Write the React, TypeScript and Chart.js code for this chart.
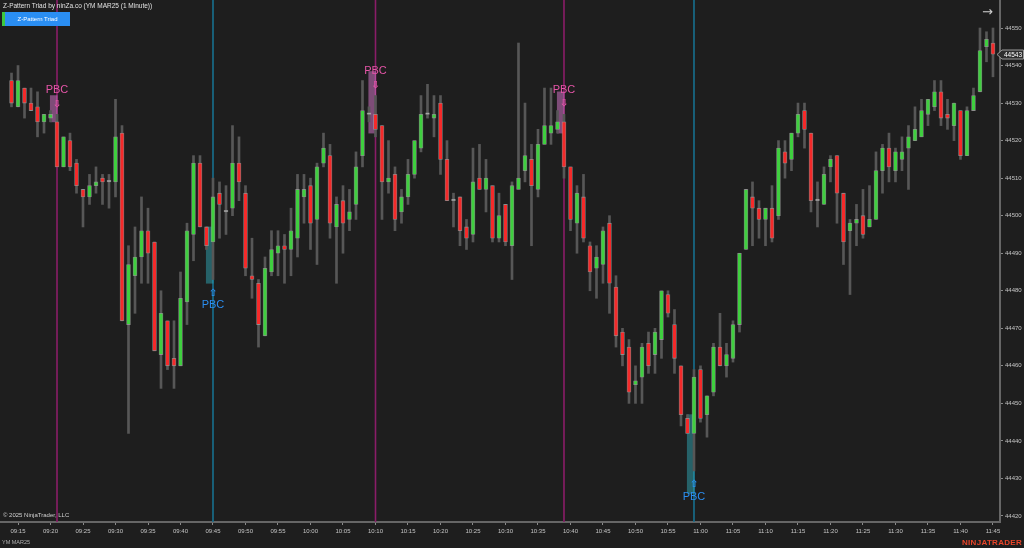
import React, { useEffect, useRef } from "react";
import { Chart, registerables } from "chart.js";

Chart.register(...registerables);

// Bars are 1-minute candles; minute offsets are relative to 09:15. First bar = 09:14.
const firstBarMinute = -1;

const opens = [
  44536, 44529, 44534, 44530, 44529, 44525, 44526, 44525, 44513, 44520,
  44514, 44507, 44505, 44508, 44510, 44509, 44509, 44522, 44471, 44484,
  44489, 44496, 44493, 44463, 44472, 44462, 44460, 44477, 44495, 44514,
  44497, 44493, 44506, 44501, 44502, 44514, 44506, 44484, 44482, 44468,
  44485, 44490, 44492, 44491, 44494, 44505, 44508, 44499, 44514, 44516,
  44497, 44504, 44499, 44503, 44516, 44527, 44527, 44524, 44509, 44511,
  44501, 44505, 44511, 44518, 44527, 44526, 44530, 44515, 44504, 44505,
  44497, 44495, 44510, 44507, 44508, 44494, 44503, 44492, 44507, 44512,
  44515, 44507, 44519, 44522, 44523, 44525, 44513, 44498, 44505, 44492,
  44486, 44487, 44498, 44481, 44469, 44465, 44455, 44457, 44466, 44463,
  44467, 44479, 44471, 44460, 44446, 44442, 44459, 44447, 44453, 44465,
  44460, 44462, 44471, 44491, 44505, 44502, 44499, 44502, 44500, 44517,
  44515, 44522, 44528, 44522, 44504, 44503, 44513, 44516, 44506, 44496,
  44498, 44500, 44497, 44499, 44512, 44518, 44512, 44515, 44518, 44520,
  44521, 44527, 44529, 44533, 44527, 44524, 44528, 44516, 44528, 44533,
  44545, 44546,
];
const highs = [
  44538, 44540, 44534, 44534, 44533, 44527, 44528, 44527, 44521, 44522,
  44515, 44507, 44511, 44513, 44511, 44511, 44531, 44524, 44492, 44497,
  44505, 44502, 44493, 44480, 44472, 44472, 44485, 44498, 44516, 44516,
  44497, 44510, 44509, 44508, 44524, 44521, 44508, 44494, 44483, 44489,
  44496, 44496, 44495, 44502, 44511, 44511, 44510, 44514, 44522, 44519,
  44505, 44508, 44507, 44517, 44536, 44529, 44532, 44524, 44520, 44513,
  44507, 44515, 44520, 44532, 44535, 44532, 44532, 44520, 44506, 44505,
  44499, 44518, 44519, 44515, 44508, 44506, 44503, 44509, 44546, 44530,
  44519, 44523, 44534, 44534, 44528, 44527, 44513, 44508, 44511, 44493,
  44492, 44497, 44500, 44484, 44470, 44467, 44460, 44466, 44469, 44470,
  44480, 44480, 44475, 44460, 44447, 44459, 44460, 44452, 44466, 44474,
  44466, 44472, 44490, 44507, 44509, 44504, 44502, 44508, 44520, 44520,
  44522, 44530, 44530, 44522, 44509, 44513, 44516, 44516, 44506, 44499,
  44503, 44507, 44508, 44517, 44519, 44522, 44518, 44521, 44524, 44529,
  44531, 44531, 44536, 44536, 44531, 44530, 44528, 44529, 44534, 44550,
  44549, 44550,
];
const lows = [
  44529, 44529, 44526, 44528, 44521, 44522, 44525, 44513, 44513, 44512,
  44506, 44497, 44503, 44506, 44503, 44502, 44505, 44472, 44442, 44474,
  44482, 44482, 44464, 44454, 44459, 44454, 44460, 44471, 44488, 44497,
  44491, 44483, 44494, 44495, 44500, 44504, 44484, 44478, 44465, 44468,
  44484, 44484, 44482, 44484, 44489, 44498, 44491, 44487, 44513, 44494,
  44482, 44490, 44496, 44499, 44513, 44525, 44521, 44499, 44506, 44496,
  44498, 44503, 44510, 44517, 44526, 44521, 44511, 44504, 44497, 44492,
  44491, 44493, 44507, 44501, 44493, 44493, 44492, 44483, 44507, 44509,
  44492, 44505, 44519, 44519, 44522, 44510, 44496, 44490, 44493, 44480,
  44478, 44482, 44474, 44465, 44460, 44450, 44450, 44450, 44458, 44458,
  44462, 44473, 44458, 44444, 44442, 44432, 44445, 44441, 44452, 44460,
  44457, 44461, 44469, 44491, 44492, 44494, 44492, 44493, 44499, 44510,
  44512, 44521, 44518, 44501, 44497, 44503, 44509, 44498, 44487, 44479,
  44492, 44494, 44497, 44499, 44506, 44509, 44509, 44512, 44507, 44520,
  44521, 44524, 44528, 44524, 44523, 44520, 44515, 44516, 44528, 44533,
  44541, 44537,
];
const closes = [
  44530, 44536, 44530, 44528, 44525, 44527, 44527, 44513, 44521, 44513,
  44508, 44505, 44508, 44509, 44509, 44509, 44521, 44472, 44487, 44489,
  44496, 44490, 44464, 44474, 44460, 44460, 44478, 44496, 44514, 44497,
  44492, 44505, 44503, 44501, 44514, 44509, 44486, 44483, 44471, 44486,
  44491, 44492, 44491, 44496, 44507, 44507, 44498, 44513, 44518, 44498,
  44503, 44498, 44501, 44513, 44528, 44527, 44523, 44509, 44510, 44499,
  44505, 44511, 44520, 44527, 44527, 44527, 44515, 44504, 44504, 44496,
  44494, 44509, 44507, 44510, 44494, 44500, 44493, 44508, 44510, 44516,
  44508, 44519, 44524, 44524, 44525, 44513, 44499, 44506, 44494, 44485,
  44489, 44496, 44482, 44468, 44463, 44453, 44456, 44465, 44460, 44469,
  44480, 44474, 44462, 44447, 44442, 44457, 44446, 44452, 44465, 44460,
  44463, 44471, 44490, 44507, 44502, 44499, 44502, 44494, 44518, 44514,
  44522, 44527, 44523, 44504, 44504, 44511, 44515, 44506, 44493, 44498,
  44499, 44495, 44499, 44512, 44518, 44513, 44517, 44517, 44521, 44523,
  44528, 44531, 44533, 44526, 44526, 44530, 44516, 44528, 44532, 44544,
  44547, 44543,
];

// Axis ticks
const xTickMinutes = [
  0, 5, 10, 15, 20, 25, 30, 35, 40, 45, 50, 55, 60, 65, 70, 75,
  80, 85, 90, 95, 100, 105, 110, 115, 120, 125, 130, 135, 140, 145, 150,
];
const xTickLabels = [
  "09:15", "09:20", "09:25", "09:30", "09:35", "09:40", "09:45", "09:50",
  "09:55", "10:00", "10:05", "10:10", "10:15", "10:20", "10:25", "10:30",
  "10:35", "10:40", "10:45", "10:50", "10:55", "11:00", "11:05", "11:10",
  "11:15", "11:20", "11:25", "11:30", "11:35", "11:40", "11:45",
];
const yTicks = [
  44420, 44430, 44440, 44450, 44460, 44470, 44480, 44490, 44500, 44510,
  44520, 44530, 44540, 44550,
];

// Z-Pattern Triad signals (bearish = pink, bullish = blue)
const bearSignalMinutes = [6, 55, 84];
const bearBoxLow = [44525, 44522, 44522];
const bearBoxHigh = [44532, 44538.4, 44533];
const bearTextPrice = [44533.4, 44538.5, 44533.4];
const bearArrowPrice = [44529.7, 44534.8, 44529.8];

const bullSignalMinutes = [30, 104];
const bullBoxLow = [44482, 44426];
const bullBoxHigh = [44497, 44447];
const bullArrowPrice = [44479.3, 44428.5];
const bullTextPrice = [44476.2, 44425.1];

// Visible range
const X_MIN = -2.77;
const X_MAX = 151.08;
const Y_MIN = 44418.4;
const Y_MAX = 44557.46;

const BG = "#1e1e1e";
const GREEN = "#3fcf3f";
const RED = "#f52a2a";
const DOJI = "#b8b8b8";
const WICK = "#575757";
const PINK_LINE = "#8a1d68";
const BLUE_LINE = "#17708f";
const PINK_TEXT = "#e655a8";
const BLUE_TEXT = "#2b8ef0";
const TICK_FONT = "'Liberation Sans', Arial, sans-serif";

export default function App() {
  const canvasRef = useRef<HTMLCanvasElement | null>(null);

  useEffect(() => {
    const canvas = canvasRef.current;
    if (!canvas) return;

    const minutes = opens.map((_, i) => i + firstBarMinute);
    const wickData = minutes.map((m, i) => ({ x: m, y: [lows[i], highs[i]] }));
    const bodyData = minutes.map((m, i) => ({ x: m, y: [opens[i], closes[i]] }));
    const bodyColors = opens.map((o, i) =>
      closes[i] > o ? GREEN : closes[i] < o ? RED : DOJI
    );

    const boxData = [
      ...bearSignalMinutes.map((m, i) => ({ x: m - 0.5, y: [bearBoxLow[i], bearBoxHigh[i]] })),
      ...bullSignalMinutes.map((m, i) => ({ x: m - 0.5, y: [bullBoxLow[i], bullBoxHigh[i]] })),
    ];
    const boxColors = [
      ...bearSignalMinutes.map(() => "rgba(205,115,195,0.55)"),
      ...bullSignalMinutes.map(() => "rgba(45,165,180,0.5)"),
    ];

    const lineSets = [
      ...bearSignalMinutes.map((m) => ({ m, c: PINK_LINE })),
      ...bullSignalMinutes.map((m) => ({ m, c: BLUE_LINE })),
    ].map(({ m, c }) => ({
      type: "line" as const,
      data: [
        { x: m, y: Y_MIN },
        { x: m, y: Y_MAX },
      ],
      borderColor: c,
      borderWidth: 1.6,
      pointRadius: 0,
      order: 10,
    }));

    const marksPlugin = {
      id: "pbcMarks",
      afterDatasetsDraw(chart: any) {
        const { ctx } = chart;
        const xs = chart.scales.x;
        const ys = chart.scales.y;
        ctx.save();
        ctx.textAlign = "center";
        ctx.textBaseline = "middle";
        bearSignalMinutes.forEach((m, i) => {
          const px = xs.getPixelForValue(m);
          ctx.fillStyle = PINK_TEXT;
          ctx.font = "11px 'Liberation Sans', Arial, sans-serif";
          ctx.fillText("PBC", px, ys.getPixelForValue(bearTextPrice[i]));
          ctx.font = "bold 10px 'DejaVu Sans', sans-serif";
          ctx.fillText("⇩", px, ys.getPixelForValue(bearArrowPrice[i]));
        });
        bullSignalMinutes.forEach((m, i) => {
          const px = xs.getPixelForValue(m);
          ctx.fillStyle = BLUE_TEXT;
          ctx.font = "11px 'Liberation Sans', Arial, sans-serif";
          ctx.fillText("PBC", px, ys.getPixelForValue(bullTextPrice[i]));
          ctx.font = "bold 10px 'DejaVu Sans', sans-serif";
          ctx.fillText("⇧", px, ys.getPixelForValue(bullArrowPrice[i]));
        });
        ctx.restore();
      },
      afterDraw(chart: any) {
        const { ctx, chartArea } = chart;
        const ys = chart.scales.y;
        const last = closes[closes.length - 1];
        const py = Math.round(ys.getPixelForValue(last)) + 0.5;
        const x0 = chartArea.right - 3;
        ctx.save();
        ctx.beginPath();
        ctx.moveTo(x0, py);
        ctx.lineTo(x0 + 5, py - 4.5);
        ctx.lineTo(1023.5, py - 4.5);
        ctx.lineTo(1023.5, py + 4.5);
        ctx.lineTo(x0 + 5, py + 4.5);
        ctx.closePath();
        ctx.fillStyle = "#2e2e2e";
        ctx.fill();
        ctx.strokeStyle = "#9a9a9a";
        ctx.lineWidth = 1;
        ctx.stroke();
        ctx.fillStyle = "#ffffff";
        ctx.font = "6.5px " + TICK_FONT;
        ctx.textAlign = "left";
        ctx.textBaseline = "middle";
        ctx.fillText(String(last), x0 + 7, py + 0.5);
        ctx.restore();
      },
    };

    const chart = new Chart(canvas, {
      type: "bar",
      data: {
        datasets: [
          ...lineSets,
          {
            type: "bar",
            data: boxData as any,
            backgroundColor: boxColors,
            barThickness: 7,
            grouped: false,
            borderWidth: 0,
            order: 8,
          } as any,
          {
            type: "bar",
            data: wickData as any,
            backgroundColor: WICK,
            barThickness: 2,
            grouped: false,
            borderWidth: 0,
            order: 5,
          } as any,
          {
            type: "bar",
            data: bodyData as any,
            backgroundColor: bodyColors,
            borderColor: "rgba(205,205,205,0.5)",
            borderWidth: 0.8,
            borderSkipped: false,
            barThickness: 4,
            minBarLength: 1.5,
            grouped: false,
            order: 1,
          } as any,
        ],
      },
      options: {
        responsive: false,
        maintainAspectRatio: false,
        devicePixelRatio: 1,
        animation: false,
        layout: { padding: 0 },
        plugins: {
          legend: { display: false },
          tooltip: { enabled: false },
          title: { display: false },
        },
        scales: {
          x: {
            type: "linear",
            min: X_MIN,
            max: X_MAX,
            offset: false,
            grid: {
              offset: false,
              drawOnChartArea: false,
              drawTicks: true,
              tickLength: 3,
              tickColor: "#8a8a8a",
            },
            border: { display: true, color: "#666666", width: 2 },
            ticks: {
              color: "#c4c4c4",
              font: { size: 6, family: TICK_FONT },
              padding: 3,
              autoSkip: false,
              maxRotation: 0,
              callback: (v: any) => {
                const k = xTickMinutes.indexOf(Number(v));
                return k >= 0 ? xTickLabels[k] : "";
              },
            },
            afterBuildTicks: (s: any) => {
              s.ticks = xTickMinutes.map((v) => ({ value: v }));
            },
            afterFit: (s: any) => {
              s.height = 26;
              s.paddingLeft = 0;
              s.paddingRight = 0;
            },
          },
          y: {
            type: "linear",
            position: "right",
            min: Y_MIN,
            max: Y_MAX,
            beginAtZero: false,
            grid: {
              drawOnChartArea: false,
              drawTicks: true,
              tickLength: 3,
              tickColor: "#8a8a8a",
            },
            border: { display: true, color: "#666666", width: 2 },
            ticks: {
              color: "#c4c4c4",
              font: { size: 6, family: TICK_FONT },
              padding: 2,
              callback: (v: any) => String(v),
            },
            afterBuildTicks: (s: any) => {
              s.ticks = yTicks.map((v) => ({ value: v }));
            },
            afterFit: (s: any) => {
              s.width = 24;
              s.paddingTop = 0;
              s.paddingBottom = 0;
            },
          },
        },
      } as any,
      plugins: [marksPlugin],
    });

    return () => chart.destroy();
  }, []);

  const small: React.CSSProperties = {
    position: "absolute",
    fontFamily: TICK_FONT,
    whiteSpace: "nowrap",
    lineHeight: 1,
  };

  return (
    <div
      style={{
        position: "fixed",
        left: 0,
        top: 0,
        width: 1024,
        height: 548,
        background: BG,
        overflow: "hidden",
      }}
    >
      <canvas
        ref={canvasRef}
        width={1024}
        height={548}
        style={{ position: "absolute", left: 0, top: 0, width: 1024, height: 548 }}
      />
      <div style={{ ...small, left: 3, top: 2.5, fontSize: 6.5, color: "#e2e2e2" }}>
        Z-Pattern Triad by ninZa.co (YM MAR25 (1 Minute))
      </div>
      <div
        style={{
          position: "absolute",
          left: 2,
          top: 12,
          width: 68,
          height: 14,
          background: "#2a8ef2",
        }}
      >
        <div style={{ position: "absolute", left: 0, top: 0, width: 3, height: 14, background: "#3ec83e" }} />
        <div
          style={{
            ...small,
            left: 3,
            right: 0,
            top: 4,
            textAlign: "center",
            fontSize: 6,
            color: "#ffffff",
          }}
        >
          Z-Pattern Triad
        </div>
      </div>
      <div style={{ ...small, left: 982, top: 5, fontSize: 13, color: "#d0d0d0", fontFamily: "'DejaVu Sans', sans-serif" }}>
        →
      </div>
      <div style={{ ...small, left: 3, top: 512, fontSize: 6, color: "#d0d0d0" }}>
        © 2025 NinjaTrader, LLC
      </div>
      <div style={{ ...small, left: 2, top: 540, fontSize: 5.5, color: "#b0b0b0" }}>YM MAR25</div>
      <div
        style={{
          ...small,
          left: 962,
          top: 538.5,
          fontSize: 8,
          fontWeight: 700,
          color: "#e8452a",
          letterSpacing: 0.3,
        }}
      >
        NINJATRADER
      </div>
    </div>
  );
}
